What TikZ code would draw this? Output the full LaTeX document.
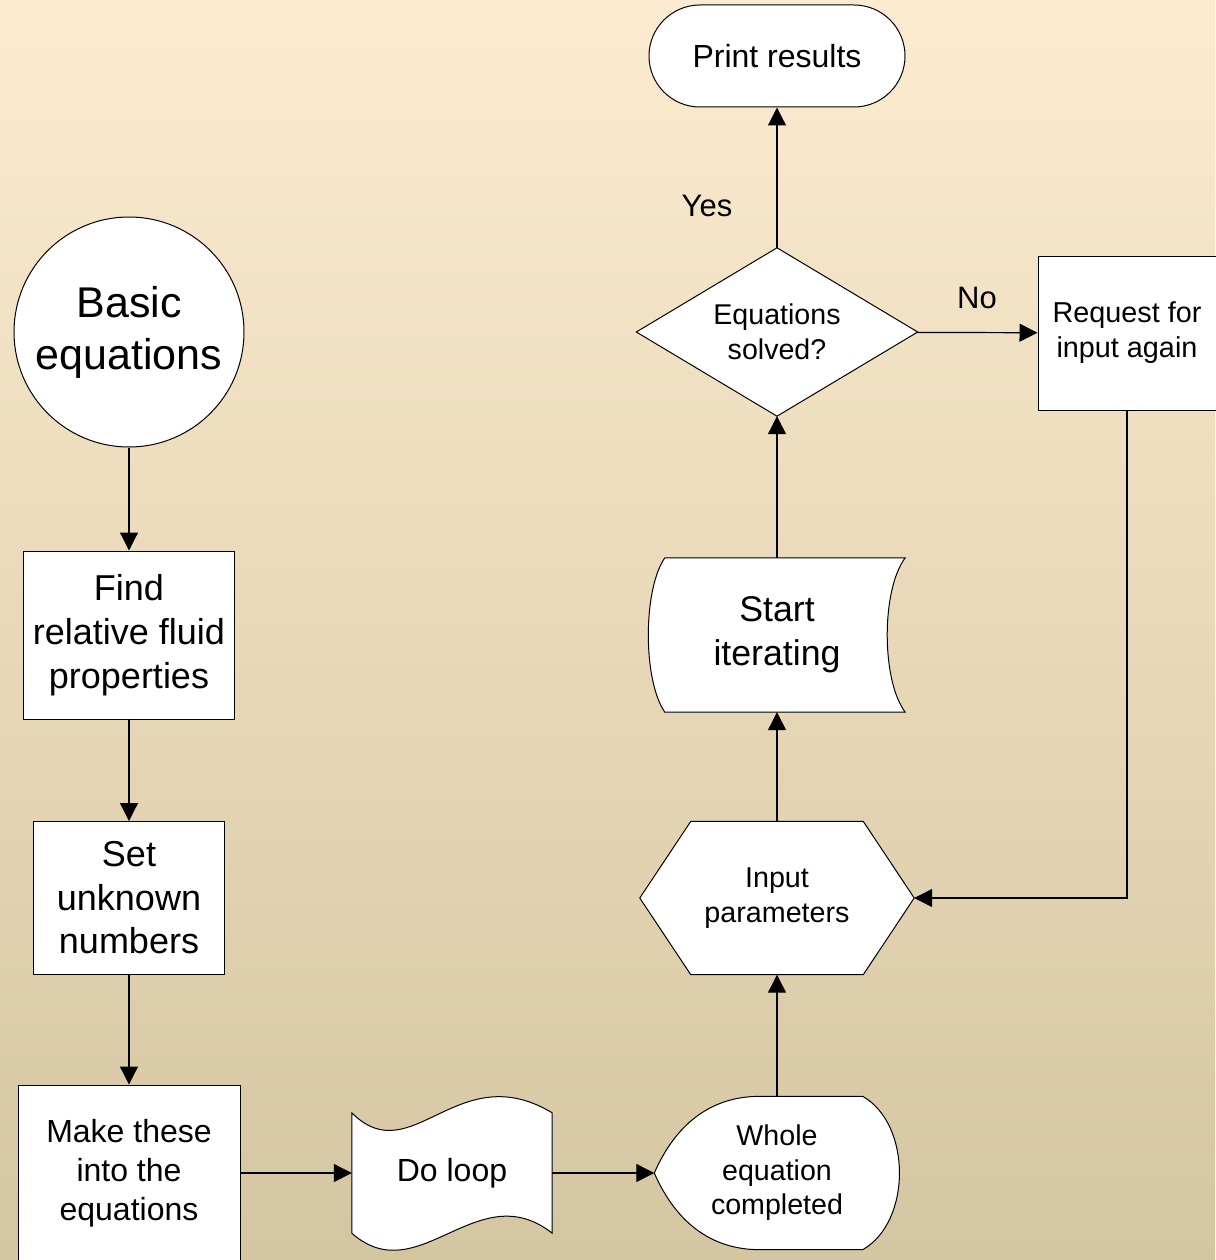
\documentclass[tikz,border=0pt]{standalone}
\usepackage{fontspec}
\setmainfont{Liberation Sans}
\usetikzlibrary{arrows.meta}
\definecolor{bgtop}{HTML}{FCEBD0}
\definecolor{bgmid}{HTML}{F1E9D3}
\definecolor{bgbot}{HTML}{D5C6A2}
\pgfdeclarelayer{bg}
\pgfdeclarelayer{outline}
\pgfsetlayers{bg,outline,main}

\begin{document}
\begin{tikzpicture}[x=1pt, y=-1pt,
    box/.style={draw, fill=white, line width=1pt, align=center, inner sep=0pt},
    bare/.style={align=center, inner sep=0pt},
    outl/.style={draw, fill=white, line width=1pt},
    flow/.style={-{Triangle[length=18pt, width=18pt]}, line width=1.2pt}]
  \useasboundingbox (0,0) rectangle (1215,1260);
  \begin{pgfonlayer}{bg}
    \shade[top color=bgtop, middle color=bgmid, bottom color=bgbot]
      (0,0) rectangle (1215,1260);
  \end{pgfonlayer}

  % left column
  \node[box, circle, minimum size=230pt, font=\fontsize{43}{52}\selectfont]
    (basic) at (129,332) {Basic\\equations};
  \node[box, minimum width=211pt, minimum height=168pt, font=\fontsize{36}{44}\selectfont]
    (find) at (129,635) {Find\\relative fluid\\properties};
  \node[box, minimum width=191pt, minimum height=153pt, font=\fontsize{36}{43.5}\selectfont]
    (set) at (129,898) {Set\\unknown\\numbers};
  \node[box, minimum width=222pt, minimum height=176pt, font=\fontsize{32}{39}\selectfont]
    (make) at (129,1173) {Make these\\into the\\equations};

  % bottom row and right column
  \node[bare, minimum width=200pt, minimum height=120pt, font=\fontsize{32}{39}\selectfont]
    (loop) at (452,1173) {Do loop};
  \node[bare, minimum width=245pt, minimum height=153pt, font=\fontsize{28.6}{34.5}\selectfont]
    (whole) at (777,1173) {Whole\\equation\\completed};
  \node[bare, minimum width=274pt, minimum height=153pt, font=\fontsize{28.7}{35}\selectfont]
    (inp) at (777,898) {Input\\parameters};
  \node[bare, minimum width=256pt, minimum height=154pt, font=\fontsize{35.7}{44}\selectfont]
    (start) at (777,635) {Start\\iterating};
  \node[bare, minimum width=281pt, minimum height=168pt, font=\fontsize{28.6}{35}\selectfont]
    (dec) at (777,332) {Equations\\solved?};
  \node[box, rounded corners=51pt, minimum width=256pt, minimum height=102pt,
    font=\fontsize{32}{39}\selectfont] (print) at (777,56) {Print results};
  \node[box, minimum width=178pt, minimum height=154pt, font=\fontsize{28.8}{35}\selectfont]
    (req) at (1127,333) {Request for\\input again};

  \node[font=\fontsize{31}{37}\selectfont] (yes) at (707,206) {Yes};
  \node[font=\fontsize{31}{37}\selectfont] (no) at (977,298) {No};

  \begin{pgfonlayer}{outline}
    \draw[outl] (loop.north west) .. controls +(60,60) and +(-95,-57) .. (loop.north east)
      -- (loop.south east) .. controls +(-75,-59) and +(67,59) .. (loop.south west) -- cycle;
    \draw[outl] (whole.west) .. controls +(21,-48) and +(-50,0) .. ([xshift=-17pt]whole.north)
      -- ([xshift=-37pt]whole.north east) .. controls +(49,28) and +(49,-28) .. ([xshift=-37pt]whole.south east)
      -- ([xshift=-17pt]whole.south) .. controls +(-50,0) and +(21,48) .. (whole.west) -- cycle;
    \draw[outl] (inp.west) -- ([xshift=51pt]inp.north west) -- ([xshift=-51pt]inp.north east)
      -- (inp.east) -- ([xshift=-51pt]inp.south east) -- ([xshift=51pt]inp.south west) -- cycle;
    \draw[outl] ([xshift=16pt]start.north west) -- (start.north east)
      .. controls +(-24,32) and +(-24,-32) .. (start.south east)
      -- ([xshift=16pt]start.south west) .. controls +(-22,-32) and +(-22,32) .. ([xshift=16pt]start.north west) -- cycle;
    \draw[outl] (dec.west) -- (dec.north) -- (dec.east) -- (dec.south) -- cycle;
  \end{pgfonlayer}

  \draw[flow] (basic) -- (find);
  \draw[flow] (find) -- (set);
  \draw[flow] (set) -- (make);
  \draw[flow] (make) -- (loop);
  \draw[flow] (loop) -- (whole);
  \draw[flow] (whole) -- (inp);
  \draw[flow] (inp) -- (start);
  \draw[flow] (start) -- (dec);
  \draw[flow] (dec) -- (print);
  \draw[flow] (dec) -- (req);
  \draw[flow] (req) |- (inp);
\end{tikzpicture}
\end{document}
